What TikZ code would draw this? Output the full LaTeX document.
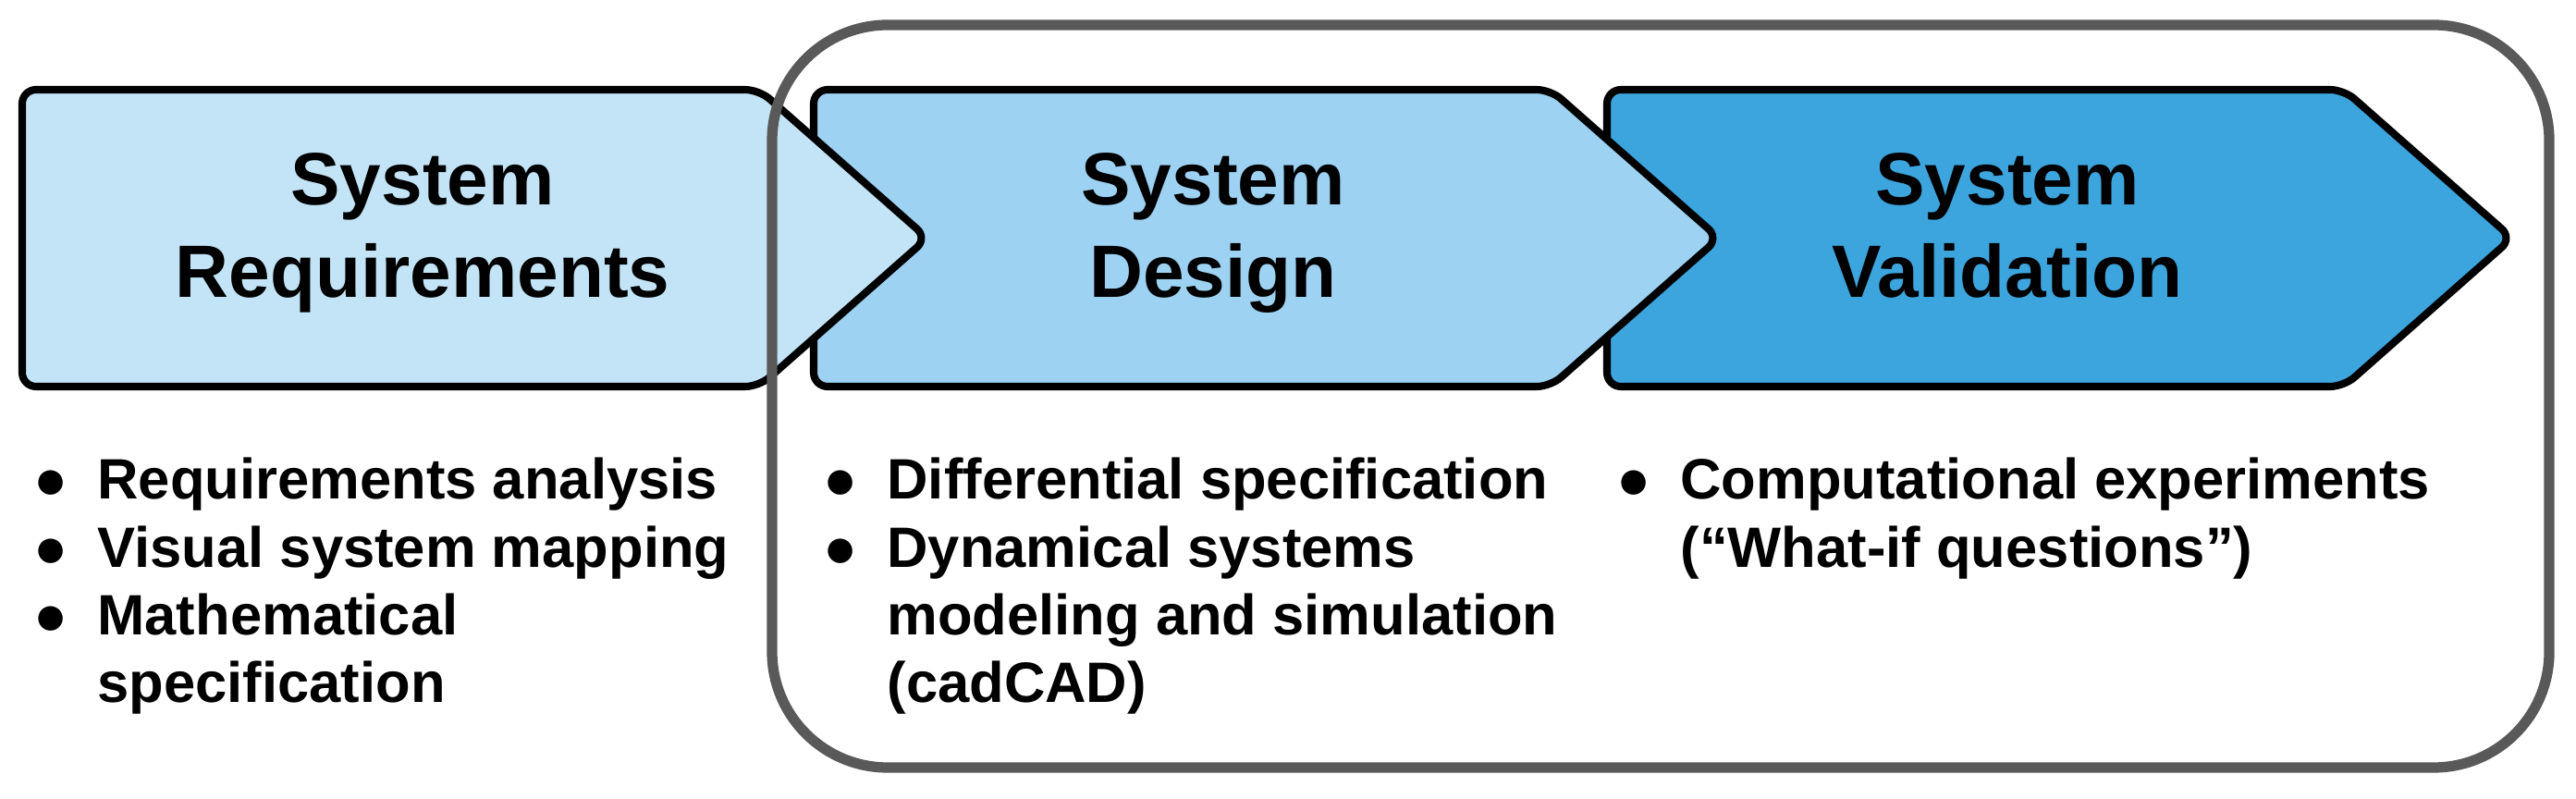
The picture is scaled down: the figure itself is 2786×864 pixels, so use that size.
\documentclass[tikz,border=0pt]{standalone}
\usepackage{fontspec}
\setmainfont{Liberation Sans}
\definecolor{reqblue}{HTML}{C3E4F6}
\definecolor{desblue}{HTML}{9DD2F2}
\definecolor{valblue}{HTML}{3DA5DE}
\definecolor{framegray}{HTML}{595959}

\begin{document}
\begin{tikzpicture}[
  x=0.01cm,
  y=0.01cm,
  chevron/.style={
    draw=black,
    line width=2.3pt,
    line join=round,
    rounded corners=0.15cm
  },
  title/.style={
    align=center,
    inner sep=0pt,
    font=\fontsize{22.8}{28.5}\selectfont\bfseries
  },
  bullets/.style={
    anchor=base west,
    inner sep=0pt,
    font=\fontsize{17.5}{20.8}\selectfont\bfseries
  },
  frame/.style={
    draw=framegray,
    line width=3.2pt,
    rounded corners=1.25cm
  },
]
\useasboundingbox (0,0) rectangle (2786,864);
% later stages first, so each tip lies over the next one
\foreach \l/\c in {1738/valblue, 880/desblue, 24/reqblue}{
  \filldraw[chevron, fill=\c] (\l,767) -- ++(797,0) -- ++(182,-160.5)
    -- ++(-182,-160.5) -- ++(-797,0) -- cycle;
}
\node[title] (req) at (457,605.5) {System\\Requirements\strut};
\node[title] (des) at (1312,605.5) {System\\Design\strut};
\node[title] (val) at (2171,605.5) {System\\Validation\strut};

\node[bullets] (reqlist) at (36,324) {\begin{tabular}[t]{@{}l@{\hspace{9pt}}l@{}}
  ● & Requirements analysis\\
  ● & Visual system mapping\\
  ● & Mathematical\\
    & specification
\end{tabular}};
\node[bullets] (deslist) at (890,324) {\begin{tabular}[t]{@{}l@{\hspace{9pt}}l@{}}
  ● & Differential specification\\
  ● & Dynamical systems\\
    & modeling and simulation\\
    & (cadCAD)
\end{tabular}};
\node[bullets] (vallist) at (1748,324) {\begin{tabular}[t]{@{}l@{\hspace{9pt}}l@{}}
  ● & Computational experiments\\
    & (“What-if questions”)
\end{tabular}};

\draw[frame] (835,837) rectangle (2757,34);
\end{tikzpicture}
\end{document}
